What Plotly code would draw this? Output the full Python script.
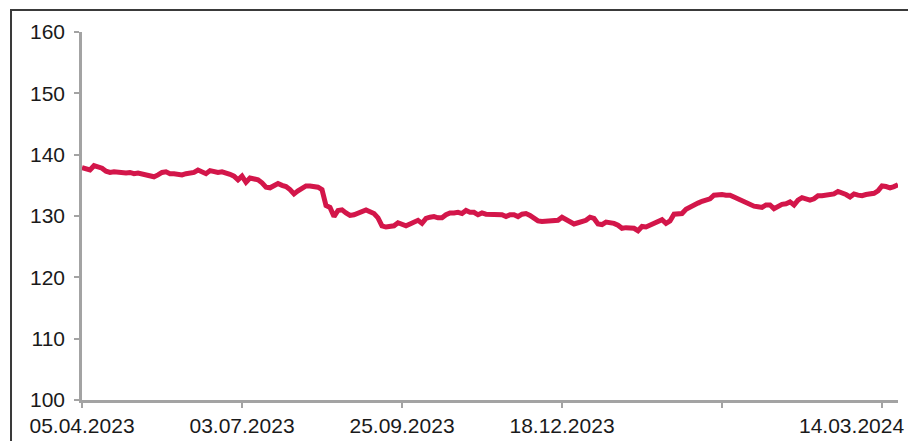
import plotly.graph_objects as go

# Values (one point every ~4 px along the category axis)
values = [
    137.9, 137.6, 137.5, 138.2, 138.0, 137.8, 137.3, 137.1, 137.2, 137.1,
    137.2, 137.0, 137.1, 136.9, 137.0, 136.8, 136.7, 136.6, 136.4, 136.7,
    137.1, 137.2, 136.9, 136.9, 136.8, 136.7, 136.9, 137.0, 137.1, 137.5,
    137.2, 136.9, 137.4, 137.2, 137.1, 137.2, 137.1, 136.8, 136.5, 135.9,
    136.5, 135.5, 136.2, 136.1, 135.9, 135.4, 134.7, 134.6, 134.9, 135.3,
    135.0, 134.8, 134.3, 133.6, 134.1, 134.6, 134.9, 134.9, 134.8, 134.7,
    134.3, 131.7, 131.4, 129.9, 130.9, 131.0, 130.5, 130.1, 130.2, 130.5,
    130.9, 131.0, 130.7, 130.4, 129.7, 128.4, 128.2, 128.2, 128.4, 128.9,
    128.6, 128.4, 128.7, 129.0, 129.3, 128.8, 129.6, 129.8, 129.9, 129.7,
    129.7, 130.2, 130.5, 130.5, 130.6, 130.4, 130.9, 130.6, 130.6, 130.2,
    130.5, 130.3, 130.3, 130.3, 130.3, 130.2, 129.9, 130.2, 130.2, 129.9,
    130.3, 130.4, 130.1, 129.7, 129.2, 129.1, 129.1, 129.1, 129.1, 129.3,
    129.8, 129.4, 129.0, 128.7, 128.9, 129.1, 129.3, 129.8, 129.6, 128.7,
    128.6, 129.0, 129.0, 128.8, 128.5, 128.0, 128.1, 128.1, 128.0, 127.6,
    128.3, 128.2, 128.5, 128.8, 129.3, 129.4, 128.8, 129.2, 130.3, 130.4,
    130.4, 131.1, 131.5, 131.9, 132.1, 132.4, 132.5, 132.8, 133.4, 133.5,
    133.5, 133.4, 133.4, 133.1, 132.8, 132.4, 132.3, 131.9, 131.6, 131.5,
    131.4, 131.8, 131.8, 131.2, 131.6, 131.9, 132.0, 132.3, 131.8, 132.6,
    133.0, 132.7, 132.6, 132.8, 133.3, 133.3, 133.4, 133.6, 133.6, 134.0,
    133.8, 133.5, 133.1, 133.6, 133.4, 133.3, 133.5, 133.6, 133.7, 134.1,
    134.9, 134.8, 134.6, 134.8, 135.1,
]
x_index = list(range(len(values)))

tick_positions = [0, 40, 80, 120, 160, 200]
tick_labels = ["05.04.2023", "03.07.2023", "25.09.2023", "18.12.2023", "", ""]
last_label = "14.03.2024"
last_label_pos = 192.25

y_ticks = [100, 110, 120, 130, 140, 150, 160]

FONT = "Liberation Sans, Arial, Helvetica, sans-serif"
AXIS_GREY = "#a3a3a3"
TEXT = "#1a1a1a"

fig = go.Figure()
fig.add_trace(go.Scatter(
    x=x_index, y=values, mode="lines",
    line=dict(color="#d3164a", width=5),
    hoverinfo="skip", showlegend=False,
))

# the page body adds an 8 px offset, so margins are shifted by 8 px
fig.update_layout(
    width=916, height=441,
    margin=dict(l=74, r=26, t=24, b=49),
    paper_bgcolor="white", plot_bgcolor="white",
    font=dict(family=FONT, size=21, color=TEXT),
    showlegend=False,
)
fig.update_xaxes(
    range=[0, len(values) - 1],
    tickmode="array", tickvals=tick_positions, ticktext=tick_labels,
    ticks="outside", ticklen=5, tickwidth=2, tickcolor=AXIS_GREY,
    showline=True, linecolor=AXIS_GREY, linewidth=2.5,
    showgrid=False, zeroline=False,
    ticklabelstandoff=0,
    tickfont=dict(family=FONT, size=21, color=TEXT),
)
fig.update_yaxes(
    range=[100, 160],
    tickmode="array", tickvals=y_ticks,
    ticks="outside", ticklen=5, tickwidth=2, tickcolor=AXIS_GREY,
    showline=True, linecolor=AXIS_GREY, linewidth=2.5,
    showgrid=False, zeroline=False,
    ticklabelstandoff=5,
    tickfont=dict(family=FONT, size=21, color=TEXT),
)

fig.add_annotation(
    x=last_label_pos, xref="x", y=0, yref="paper",
    text=last_label, showarrow=False,
    xanchor="center", yanchor="top", yshift=-12,
    font=dict(family=FONT, size=21, color=TEXT),
)

# outer frame of the exhibit
fig.add_shape(
    type="rect", xref="paper", yref="paper",
    x0=-0.087, x1=1.017, y0=-0.2, y1=1.0598,
    line=dict(color="#3a3a3a", width=2), layer="above",
)

fig.write_html("out.html")
